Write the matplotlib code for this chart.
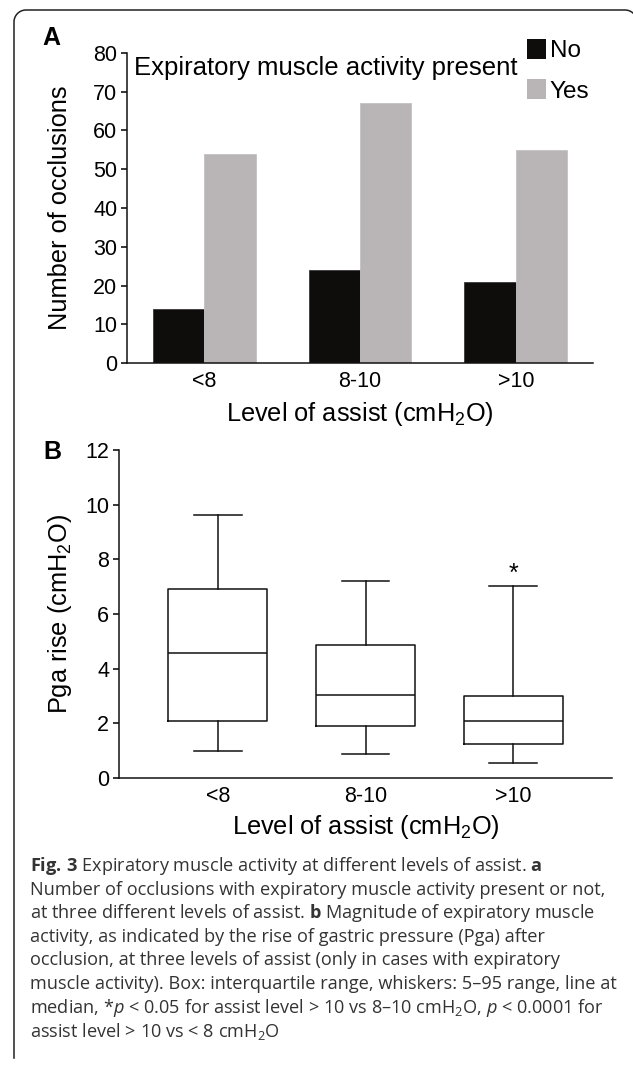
import matplotlib
matplotlib.use("Agg")
import matplotlib.pyplot as plt
import numpy as np
from matplotlib.lines import Line2D
from matplotlib.patches import Patch
from matplotlib.transforms import IdentityTransform

plt.rcParams['font.family'] = ['Liberation Sans', 'DejaVu Sans']
plt.rcParams['mathtext.fontset'] = 'custom'
plt.rcParams['mathtext.rm'] = 'Open Sans'
plt.rcParams['mathtext.bf'] = 'Open Sans:bold'
plt.rcParams['mathtext.it'] = 'Open Sans:italic'

# panel A data
levels = ['<8', '8-10', '>10']
no_counts = [14, 24, 21]
yes_counts = [54, 67, 55]

# panel B data: 5th pct, q1, median, q3, 95th pct
pga_low = [1.0, 0.86, 0.56]
pga_q1 = [2.07, 1.89, 1.25]
pga_med = [4.57, 3.02, 2.08]
pga_q3 = [6.92, 4.87, 3.0]
pga_high = [9.62, 7.21, 7.03]

W, H = 633, 1069
fig = plt.figure(figsize=(W / 100, H / 100), dpi=100)


def px_axes(l, t, r, b):
    return fig.add_axes([l / W, 1 - b / H, (r - l) / W, (b - t) / H])


LAB = 18.3
TICK = 15.5

# ---------- panel A ----------
axA = px_axes(127, 53, 593, 363)
x = np.arange(len(levels))
bw = 0.33
axA.bar(x - bw / 2, no_counts, bw, color='#0f0d0c', edgecolor='#3a3838', linewidth=0.6)
axA.bar(x + bw / 2, yes_counts, bw, color='#b9b5b6', edgecolor='#c4c1c2', linewidth=0.6)
axA.set_xlim(-0.494, 2.494)
axA.set_ylim(0, 80)
axA.set_yticks(range(0, 81, 10))
axA.set_xticks(x)
axA.set_xticklabels(levels)
axA.text(0.015, 0.952, 'Expiratory muscle activity present', transform=axA.transAxes,
         fontsize=18.5, va='center', ha='left')
handles = [Patch(facecolor='#0f0d0c', edgecolor='none'),
           Patch(facecolor='#b9b5b6', edgecolor='none')]
axA.legend(handles, ['No', 'Yes'], loc='upper left', bbox_to_anchor=(0.858, 1.045),
           frameon=False, fontsize=17.5, handlelength=0.78, handleheight=0.87,
           handletextpad=0.16, labelspacing=0.7, borderpad=0, borderaxespad=0)
axA.set_ylabel('Number of occlusions', fontsize=LAB)
axA.set_xlabel('Level of assist (cm$\\mathregular{H_2}$O)', fontsize=LAB)

# ---------- panel B ----------
axB = px_axes(119, 450, 612, 778)
stats = []
for i in range(len(levels)):
    stats.append(dict(whislo=pga_low[i], q1=pga_q1[i], med=pga_med[i],
                      q3=pga_q3[i], whishi=pga_high[i], fliers=[]))
lp = dict(color='#111111', linewidth=1.1)
axB.bxp(stats, positions=x, widths=0.67, showfliers=False,
        boxprops=lp, medianprops=lp, whiskerprops=lp, capprops=lp,
        capwidths=0.32)
axB.text(x[2], pga_high[2] + 0.45, '*', ha='center', va='center', fontsize=18)
axB.set_xlim(-0.67, 2.67)
axB.set_ylim(0, 12)
axB.set_yticks(range(0, 13, 2))
axB.set_xticks(x)
axB.set_xticklabels(levels)
axB.set_ylabel('Pga rise (cm$\\mathregular{H_2}$O)', fontsize=LAB)
axB.set_xlabel('Level of assist (cm$\\mathregular{H_2}$O)', fontsize=LAB)

for ax in (axA, axB):
    for s in ('top', 'right'):
        ax.spines[s].set_visible(False)
    for s in ('left', 'bottom'):
        ax.spines[s].set_linewidth(1.1)
        ax.spines[s].set_color('#111111')
    ax.tick_params(axis='y', length=4, width=1.1, labelsize=TICK, pad=3)
    ax.tick_params(axis='x', length=0, labelsize=TICK, pad=6)

axA.yaxis.set_label_coords((72 - 127) / 466, 0.5)
axB.yaxis.set_label_coords((74 - 119) / 493, 0.5)
axA.xaxis.set_label_coords(0.5, -(400 - 363) / 310)
axB.xaxis.set_label_coords(0.5, -(813 - 778) / 328)

fig.text(51 / W, 1 - 38 / H, 'A', fontsize=18, fontweight='bold', ha='center', va='center')
fig.text(52 / W, 1 - 452 / H, 'B', fontsize=18, fontweight='bold', ha='center', va='center')

# ---------- caption ----------
caption = [
    r'$\mathbf{Fig.\,3}$ Expiratory muscle activity at different levels of assist. $\mathbf{a}$',
    'Number of occlusions with expiratory muscle activity present or not,',
    r'at three different levels of assist. $\mathbf{b}$ Magnitude of expiratory muscle',
    'activity, as indicated by the rise of gastric pressure (Pga) after',
    'occlusion, at three levels of assist (only in cases with expiratory',
    'muscle activity). Box: interquartile range, whiskers: 5\u201395 range, line at',
    r'median, *$p$ < 0.05 for assist level > 10 vs 8' + '\u2013' + r'10 cmH$_2$O, $p$ < 0.0001 for',
    r'assist level > 10 vs < 8 cmH$_2$O',
]
for i, line in enumerate(caption):
    fig.text(30 / W, 1 - (866 + 23.6 * i) / H, line, fontsize=13.1, family='Open Sans',
             color='#333333', ha='left', va='center')

# ---------- rounded frame (open at the bottom) ----------
r = 12
left, top, right, bottom = 14, 10, 637, 1058
t = np.linspace(0, np.pi / 2, 20)
fx = np.concatenate([[left], left + r - r * np.cos(t), right - r + r * np.sin(t), [right]])
fy = np.concatenate([[bottom], top + r - r * np.sin(t), top + r - r * np.cos(t), [bottom]])
fig.add_artist(Line2D(fx, H - fy, transform=IdentityTransform(), color='#222222', linewidth=1.1))

fig.savefig('out.png', dpi=100)
